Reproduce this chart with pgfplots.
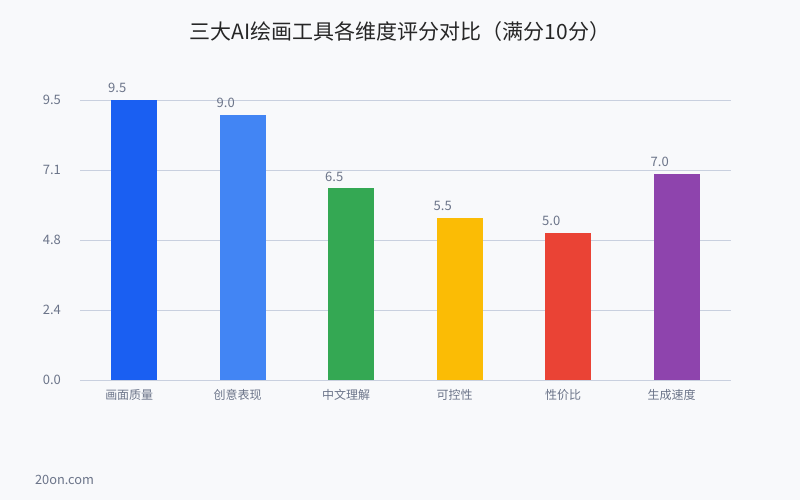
\documentclass[border=0pt]{standalone}
\usepackage{pgfplots}
\pgfplotsset{compat=1.18}
\usepackage{fontspec}
\setmainfont{Noto Sans CJK SC}
\definecolor{bg}{HTML}{F8F9FB}
\definecolor{txt}{HTML}{6B7489}
\definecolor{gridc}{HTML}{C9D0DF}
\definecolor{c1}{HTML}{1A5FF2}
\definecolor{c2}{HTML}{4285F4}
\definecolor{c3}{HTML}{34A853}
\definecolor{c4}{HTML}{FBBC05}
\definecolor{c5}{HTML}{EA4335}
\definecolor{c6}{HTML}{8E44AD}
\begin{document}
\begin{tikzpicture}
\fill[bg] (0,0) rectangle (400pt,250pt);
\node[font=\fontsize{10.5pt}{12pt}\selectfont, text=black!85] at (200pt,234pt) {三大AI绘画工具各维度评分对比（满分10分）};
\node[font=\fontsize{6.4pt}{8pt}\selectfont, text=txt, anchor=west] at (14pt,10pt) {20on.com};
\begin{axis}[
  at={(40pt,60pt)}, anchor=south west,
  scale only axis, width=325.5pt, height=140pt,
  xmin=-0.5, xmax=5.5, ymin=0, ymax=9.5,
  axis line style={draw=none},
  xmajorgrids=false, ymajorgrids=true,
  grid style={draw=gridc, line width=0.5pt},
  tick style={draw=none},
  ytick={0,2.375,4.75,7.125,9.5},
  yticklabels={0.0,2.4,4.8,7.1,9.5},
  xtick={0,1,2,3,4,5},
  xticklabels={画面质量,创意表现,中文理解,可控性,性价比,生成速度},
  major tick length=0pt,
  tick label style={font=\fontsize{6.5pt}{8pt}\selectfont, text=txt},
  xticklabel style={font=\fontsize{6pt}{7pt}\selectfont, yshift=-1pt, xshift=-2.5pt},
  yticklabel style={xshift=-6pt},
  /pgf/number format/assume math mode=true,
  ybar, bar width=23pt, bar shift=0pt,
  nodes near coords,
  nodes near coords style={font=\fontsize{6.5pt}{8pt}\selectfont, text=txt, xshift=-8.5pt},
  point meta=explicit symbolic,
  clip=false,
]
\addplot[fill=c1, draw=none] coordinates {(0,9.5)[9.5]};
\addplot[fill=c2, draw=none] coordinates {(1,9.0)[9.0]};
\addplot[fill=c3, draw=none] coordinates {(2,6.5)[6.5]};
\addplot[fill=c4, draw=none] coordinates {(3,5.5)[5.5]};
\addplot[fill=c5, draw=none] coordinates {(4,5.0)[5.0]};
\addplot[fill=c6, draw=none] coordinates {(5,7.0)[7.0]};
\end{axis}
\end{tikzpicture}
\end{document}
